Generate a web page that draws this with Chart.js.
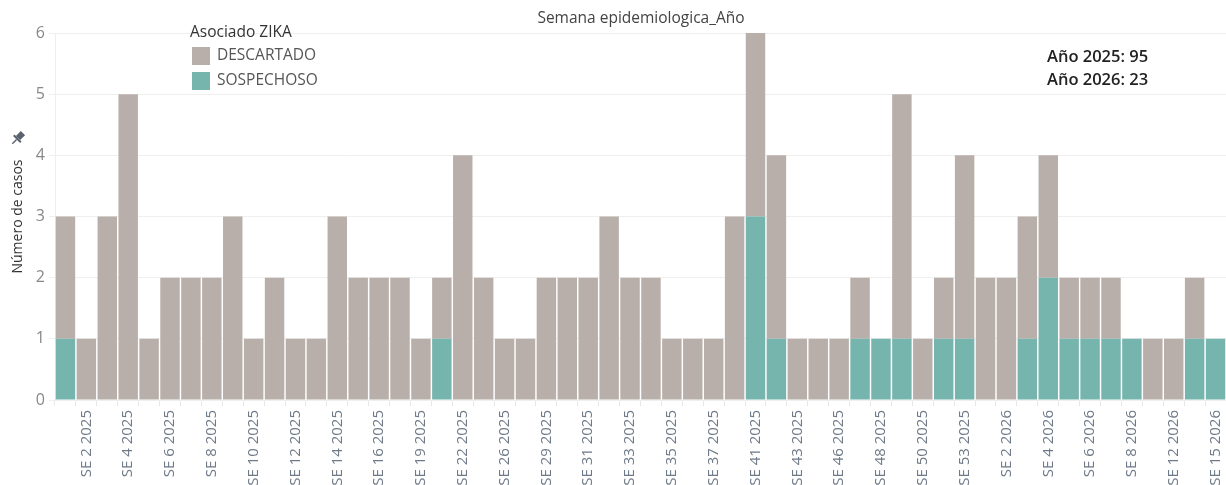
<!DOCTYPE html>
<html>
<head>
<meta charset="utf-8">
<script src="https://cdn.jsdelivr.net/npm/chart.js@4/dist/chart.umd.min.js"></script>
<style>
  html, body { margin: 0; padding: 0; background: #fff; }
  #wrap { width: 1226px; height: 485px; position: relative; }
</style>
</head>
<body>
<div id="wrap"><canvas id="chart"></canvas></div>
<script>
 // semanas epidemiologicas con casos
 const semanas = [
   'SE 1 2025', 'SE 2 2025', 'SE 3 2025', 'SE 4 2025', 'SE 5 2025', 'SE 6 2025', 'SE 7 2025', 'SE 8 2025',
   'SE 9 2025', 'SE 10 2025', 'SE 11 2025', 'SE 12 2025', 'SE 13 2025', 'SE 14 2025', 'SE 15 2025', 'SE 16 2025',
   'SE 17 2025', 'SE 19 2025', 'SE 21 2025', 'SE 22 2025', 'SE 24 2025', 'SE 26 2025', 'SE 27 2025', 'SE 29 2025',
   'SE 30 2025', 'SE 31 2025', 'SE 32 2025', 'SE 33 2025', 'SE 34 2025', 'SE 35 2025', 'SE 36 2025', 'SE 37 2025',
   'SE 39 2025', 'SE 41 2025', 'SE 42 2025', 'SE 43 2025', 'SE 44 2025', 'SE 46 2025', 'SE 47 2025', 'SE 48 2025',
   'SE 49 2025', 'SE 50 2025', 'SE 52 2025', 'SE 53 2025', 'SE 1 2026', 'SE 2 2026', 'SE 3 2026', 'SE 4 2026',
   'SE 5 2026', 'SE 6 2026', 'SE 7 2026', 'SE 8 2026', 'SE 10 2026', 'SE 12 2026', 'SE 13 2026', 'SE 15 2026'
 ];

 const sospechoso = [
   1, 0, 0, 0, 0, 0, 0, 0, 0, 0,
   0, 0, 0, 0, 0, 0, 0, 0, 1, 0,
   0, 0, 0, 0, 0, 0, 0, 0, 0, 0,
   0, 0, 0, 3, 1, 0, 0, 0, 1, 1,
   1, 0, 1, 1, 0, 0, 1, 2, 1, 1,
   1, 1, 0, 0, 1, 1
 ];

 const descartado = [
   2, 1, 3, 5, 1, 2, 2, 2, 3, 1,
   2, 1, 1, 3, 2, 2, 2, 1, 1, 4,
   2, 1, 1, 2, 2, 2, 3, 2, 2, 1,
   1, 1, 3, 3, 3, 1, 1, 1, 1, 0,
   4, 1, 1, 3, 2, 2, 2, 2, 1, 1,
   1, 0, 1, 1, 1, 0
 ];

 const anios = ['2025', '2026'];
 const totalesAnio = [95, 23];
 const yTicks = [0, 1, 2, 3, 4, 5, 6];

 const colorDescartado = '#b8afaa';
 const colorSospechoso = '#76b5ae';
 const fuente = '"Open Sans"';

 // titulo, leyenda, totales y pin dibujados sobre el canvas
 const extras = {
   id: 'extras',
   afterDraw(chart) {
     const c = chart.ctx;
     c.save();
     c.textBaseline = 'middle';
     c.textAlign = 'center';
     c.fillStyle = '#444';
     c.font = '15.5px ' + fuente;
     c.fillText('Semana epidemiologica_Año', 641, 19);

     c.textAlign = 'left';
     c.fillStyle = '#333';
     c.font = '500 15.5px ' + fuente;
     c.fillText('Asociado ZIKA', 190, 33);
     chart.data.datasets.slice().reverse().forEach((ds, i) => {
       const y = 56 + i * 25;
       c.fillStyle = ds.backgroundColor;
       c.fillRect(192, y - 9, 18, 18);
       c.fillStyle = '#555';
       c.font = '15.5px ' + fuente;
       c.fillText(ds.label, 217, y);
     });

     c.fillStyle = '#222';
     c.font = '600 16.5px ' + fuente;
     anios.forEach((a, i) => {
       c.fillText('Año ' + a + ': ' + totalesAnio[i], 1047, 57 + i * 23);
     });

     // pin
     c.translate(18, 138);
     c.rotate(Math.PI / 4);
     c.fillStyle = '#5a6270';
     c.fillRect(-3, -7, 6, 7);
     c.fillRect(-5, 0, 10, 2);
     c.fillRect(-0.7, 2, 1.4, 6);
     c.restore();
   }
 };

 const ctx = document.getElementById('chart').getContext('2d');
 const myChart = new Chart(ctx, {
   type: 'bar',
   data: {
     labels: semanas,
     datasets: [{
       label: 'SOSPECHOSO',
       data: sospechoso,
       backgroundColor: colorSospechoso,
       barPercentage: 0.93,
       categoryPercentage: 1
     }, {
       label: 'DESCARTADO',
       data: descartado,
       backgroundColor: colorDescartado,
       barPercentage: 0.93,
       categoryPercentage: 1
     }]
   },
   options: {
     responsive: true,
     maintainAspectRatio: false,
     animation: false,
     layout: { padding: { top: 33, right: 0, left: 0, bottom: 0 } },
     plugins: {
       legend: { display: false },
       tooltip: { enabled: false }
     },
     scales: {
       x: {
         stacked: true,
         grid: { display: true, drawOnChartArea: false, offset: true, tickLength: 6, color: '#e8e8e8' },
         border: { display: false },
         ticks: {
           autoSkip: false,
           maxRotation: 90,
           minRotation: 90,
           color: '#6f7a88',
           padding: 4,
           font: { family: fuente, size: 15 },
           callback: function (v, i) { return i % 2 === 1 ? this.getLabelForValue(v) : ''; }
         },
         afterFit(s) { s.height = 85; s.paddingLeft = 0; s.paddingRight = 0; }
       },
       y: {
         stacked: true,
         min: 0,
         max: 6,
         afterBuildTicks(s) { s.ticks = yTicks.map(v => ({ value: v })); },
         grid: { color: '#efefef', tickLength: 6 },
         border: { display: true, color: '#eeeeee' },
         ticks: { color: '#888', padding: 4, font: { family: fuente, size: 16 } },
         title: {
           display: true,
           text: 'Número de casos',
           color: '#333',
           padding: { top: 10, bottom: 0 },
           font: { family: fuente, size: 14 }
         },
         afterFit(s) { s.width = 55; }
       }
     }
   },
   plugins: [extras]
 });
</script>
</body>
</html>
